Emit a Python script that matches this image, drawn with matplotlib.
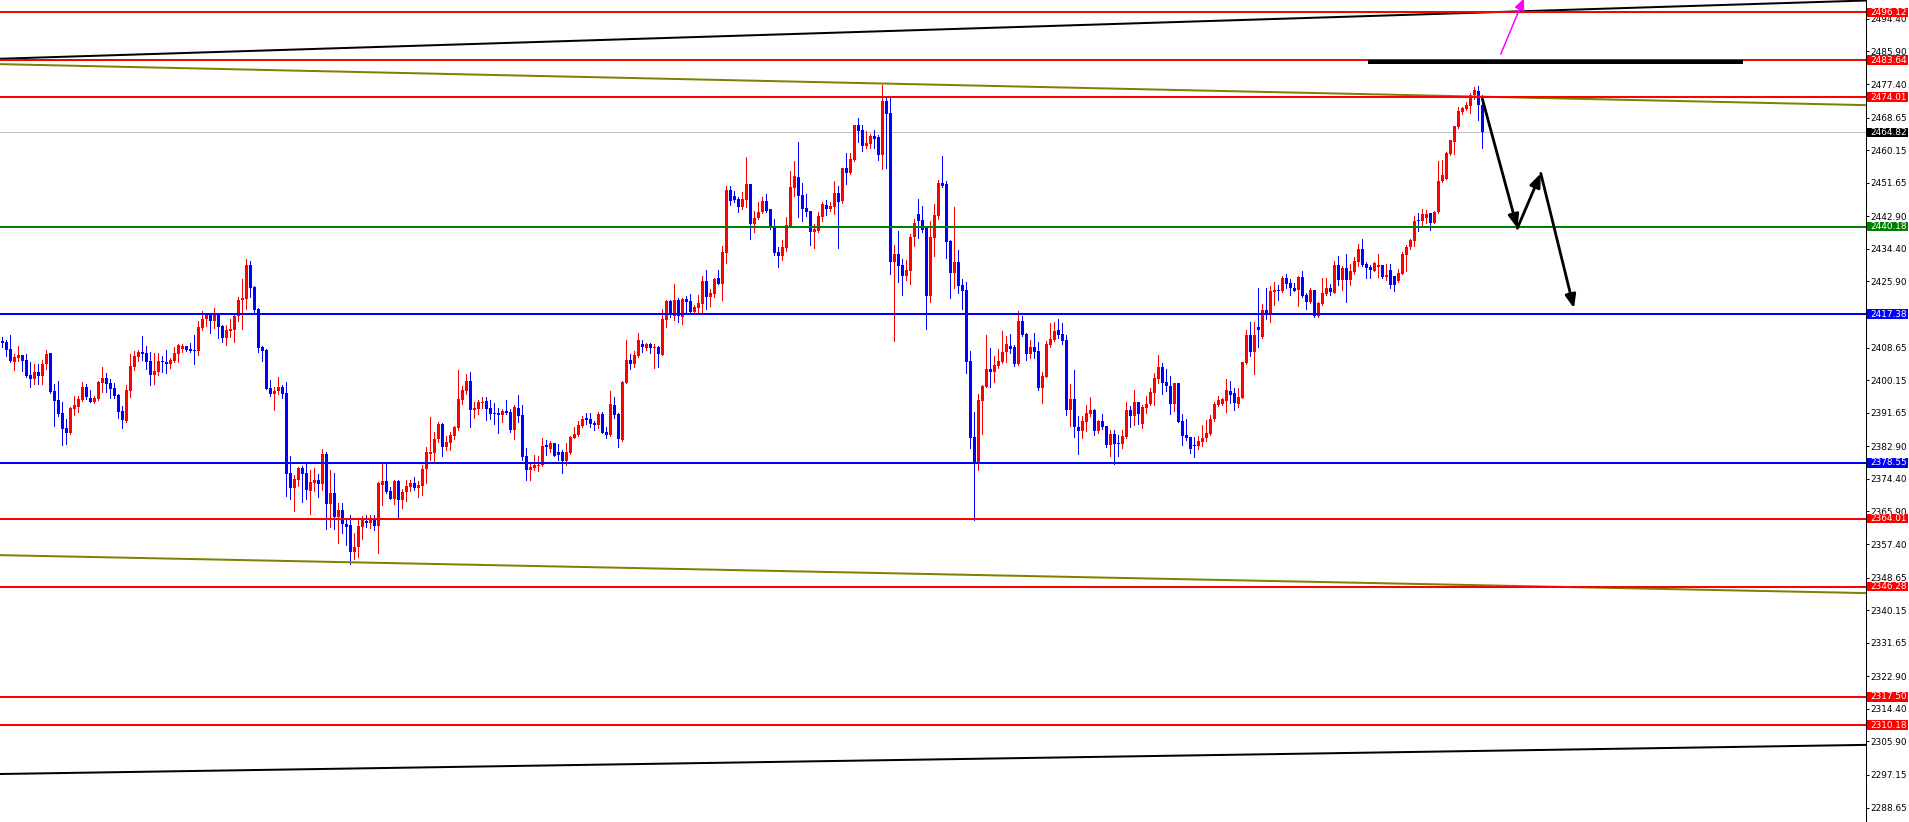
import matplotlib
matplotlib.use('Agg')
import matplotlib.pyplot as plt
import matplotlib.transforms as mtransforms
from matplotlib.patches import Rectangle, FancyArrowPatch
import numpy as np

# ---------------- data ----------------
opens = [
2410.4, 2410.1, 2408.3, 2405.0, 2405.9, 2406.6, 2405.4, 2401.5, 2400.5, 2402.3,
2401.2, 2404.4, 2407.2, 2397.3, 2395.0, 2391.6, 2387.6, 2386.4, 2392.7, 2393.2,
2395.0, 2398.4, 2395.5, 2394.4, 2395.2, 2399.5, 2400.7, 2399.4, 2398.0, 2396.3,
2392.1, 2389.6, 2397.4, 2403.6, 2406.3, 2407.5, 2407.2, 2405.1, 2401.5, 2402.3,
2405.1, 2404.9, 2404.4, 2405.2, 2407.1, 2408.3, 2409.1, 2408.3, 2408.0, 2407.8,
2413.7, 2416.1, 2417.7, 2415.6, 2417.4, 2414.3, 2411.1, 2413.1, 2413.2, 2416.9,
2421.1, 2421.3, 2430.2, 2424.5, 2418.7, 2408.8, 2408.0, 2398.0, 2396.5, 2397.3,
2398.4, 2396.8, 2375.9, 2372.0, 2374.1, 2377.2, 2375.9, 2371.2, 2373.3, 2374.1,
2373.0, 2380.9, 2367.8, 2370.6, 2364.5, 2366.2, 2362.6, 2362.3, 2355.4, 2356.7,
2361.9, 2363.5, 2362.8, 2363.7, 2362.1, 2372.8, 2373.8, 2371.2, 2369.1, 2373.8,
2368.9, 2371.0, 2372.3, 2373.3, 2372.0, 2372.5, 2377.0, 2380.9, 2381.1, 2384.8,
2388.7, 2382.7, 2383.7, 2385.6, 2387.7, 2395.0, 2397.3, 2399.9, 2392.3, 2392.6,
2394.2, 2394.7, 2392.9, 2391.6, 2391.6, 2391.1, 2392.1, 2391.8, 2387.1, 2392.9,
2391.1, 2380.3, 2376.7, 2377.2, 2377.7, 2378.0, 2383.2, 2382.2, 2383.7, 2381.4,
2381.4, 2379.1, 2381.1, 2385.1, 2385.8, 2388.2, 2390.3, 2390.0, 2388.9, 2388.4,
2391.3, 2386.6, 2385.8, 2393.7, 2391.3, 2384.5, 2399.4, 2405.4, 2404.4, 2406.4,
2409.6, 2408.5, 2409.6, 2408.5, 2408.8, 2406.7, 2415.8, 2420.8, 2416.9, 2421.1,
2416.6, 2421.3, 2420.8, 2417.9, 2419.0, 2420.0, 2426.0, 2421.8, 2422.6, 2426.8,
2425.2, 2433.3, 2449.8, 2448.2, 2447.4, 2445.3, 2447.2, 2451.3, 2440.9, 2442.5,
2444.0, 2446.9, 2444.8, 2440.4, 2433.6, 2432.5, 2434.6, 2440.4, 2450.3, 2453.2,
2448.5, 2445.1, 2444.3, 2438.8, 2439.1, 2442.7, 2445.8, 2444.8, 2445.3, 2449.0,
2446.9, 2455.5, 2454.2, 2457.6, 2466.7, 2465.4, 2461.2, 2461.7, 2463.8, 2463.6,
2458.9, 2472.9, 2469.8, 2431.0, 2433.1, 2430.2, 2427.3, 2428.6, 2437.5, 2443.5,
2441.9, 2439.8, 2422.1, 2437.2, 2443.0, 2451.6, 2451.3, 2436.5, 2428.1, 2431.0,
2425.0, 2423.7, 2405.1, 2385.3, 2378.3, 2394.7, 2398.4, 2403.1, 2402.3, 2403.8,
2404.9, 2407.5, 2409.1, 2408.8, 2404.4, 2415.6, 2412.2, 2407.0, 2408.8, 2407.8,
2398.1, 2401.0, 2409.3, 2410.6, 2413.2, 2412.2, 2410.6, 2392.3, 2395.2, 2387.9,
2386.9, 2389.2, 2391.3, 2392.3, 2386.9, 2389.5, 2388.2, 2383.2, 2386.1, 2383.7,
2383.5, 2385.3, 2392.3, 2390.8, 2394.4, 2388.7, 2392.9, 2393.9, 2396.8, 2400.4,
2403.6, 2399.7, 2398.6, 2393.9, 2399.4, 2389.5, 2385.8, 2385.3, 2383.2, 2383.0,
2384.0, 2385.1, 2386.1, 2390.0, 2393.7, 2393.9, 2394.7, 2397.3, 2396.8, 2393.9,
2395.5, 2404.6, 2411.9, 2407.5, 2414.0, 2411.4, 2418.4, 2417.4, 2423.1, 2423.7,
2423.4, 2426.8, 2425.5, 2424.2, 2423.7, 2427.0, 2422.4, 2420.5, 2423.7, 2416.9,
2420.0, 2422.6, 2424.2, 2422.9, 2430.2, 2426.3, 2429.4, 2426.3, 2428.3, 2431.0,
2434.3, 2430.5, 2429.7, 2428.6, 2429.7, 2430.2, 2427.0, 2428.9, 2427.3, 2426.0,
2427.8, 2432.8, 2434.9, 2436.5, 2441.9, 2441.7, 2442.5, 2443.8, 2441.1, 2444.0,
2452.1, 2452.6, 2459.1, 2462.3, 2466.2, 2470.1, 2470.9, 2471.7, 2474.5, 2475.6,
2471.9]

highs = [
2411.5, 2410.6, 2411.9, 2407.1, 2409.1, 2406.7, 2407.0, 2404.9, 2404.4, 2404.4,
2405.4, 2408.0, 2407.2, 2399.1, 2399.9, 2394.4, 2390.0, 2393.2, 2396.0, 2396.0,
2399.7, 2399.1, 2397.6, 2395.9, 2399.9, 2403.6, 2402.0, 2400.4, 2399.4, 2396.5,
2393.4, 2398.9, 2407.0, 2407.8, 2408.0, 2411.7, 2409.1, 2407.5, 2407.2, 2407.2,
2406.4, 2408.0, 2405.9, 2408.8, 2409.5, 2409.5, 2409.1, 2409.8, 2411.9, 2415.6,
2418.2, 2417.7, 2417.7, 2419.0, 2417.7, 2414.5, 2414.5, 2416.1, 2417.4, 2421.8,
2426.5, 2431.8, 2431.2, 2424.7, 2419.0, 2409.1, 2408.3, 2400.2, 2398.4, 2400.9,
2398.9, 2399.7, 2380.3, 2375.4, 2377.5, 2377.7, 2378.3, 2376.7, 2377.2, 2375.6,
2382.2, 2381.4, 2376.7, 2376.0, 2368.0, 2368.0, 2364.1, 2364.9, 2360.2, 2363.7,
2364.7, 2364.9, 2364.9, 2364.9, 2373.6, 2378.8, 2378.3, 2372.3, 2374.1, 2374.1,
2371.8, 2374.1, 2374.1, 2374.9, 2373.8, 2378.0, 2382.7, 2390.5, 2386.6, 2389.2,
2389.0, 2385.6, 2386.6, 2388.2, 2402.8, 2398.6, 2401.8, 2402.3, 2394.4, 2394.9,
2395.8, 2395.8, 2395.0, 2394.2, 2392.9, 2392.6, 2395.0, 2392.6, 2393.7, 2396.3,
2393.7, 2382.4, 2378.3, 2380.6, 2380.3, 2385.1, 2384.5, 2384.3, 2383.7, 2383.5,
2381.9, 2383.7, 2385.6, 2387.9, 2389.5, 2390.8, 2391.6, 2391.6, 2389.5, 2391.8,
2391.8, 2387.9, 2397.3, 2395.8, 2391.6, 2399.9, 2410.6, 2407.0, 2407.8, 2412.4,
2410.6, 2409.8, 2409.8, 2409.6, 2409.1, 2418.7, 2421.1, 2421.1, 2425.2, 2421.6,
2421.6, 2422.1, 2422.6, 2419.8, 2422.4, 2427.3, 2428.9, 2423.9, 2426.8, 2428.9,
2435.2, 2450.8, 2450.8, 2449.5, 2447.9, 2449.2, 2458.4, 2451.3, 2444.3, 2446.6,
2447.9, 2448.7, 2444.8, 2442.2, 2434.9, 2436.7, 2442.7, 2454.7, 2457.3, 2462.3,
2451.6, 2448.7, 2444.3, 2440.9, 2444.0, 2446.6, 2447.2, 2446.6, 2452.1, 2450.8,
2455.5, 2459.4, 2459.4, 2466.7, 2468.5, 2466.7, 2465.2, 2464.4, 2465.4, 2464.1,
2477.2, 2473.8, 2473.8, 2435.4, 2439.1, 2431.8, 2431.5, 2438.3, 2442.2, 2447.4,
2445.6, 2440.1, 2441.7, 2446.1, 2452.4, 2458.6, 2452.1, 2436.7, 2445.3, 2434.1,
2426.5, 2425.8, 2407.8, 2391.8, 2396.5, 2398.9, 2411.9, 2408.5, 2406.4, 2408.3,
2413.0, 2411.7, 2412.2, 2409.3, 2418.2, 2416.9, 2412.4, 2410.6, 2412.4, 2410.1,
2402.3, 2410.4, 2415.1, 2415.3, 2416.1, 2415.1, 2411.9, 2399.1, 2402.8, 2390.8,
2390.8, 2393.7, 2395.8, 2392.6, 2389.7, 2391.3, 2388.2, 2387.1, 2387.1, 2385.8,
2387.1, 2394.4, 2393.4, 2397.6, 2394.4, 2393.7, 2396.0, 2398.1, 2402.0, 2406.7,
2404.6, 2403.1, 2401.2, 2399.4, 2399.4, 2391.3, 2390.0, 2385.3, 2385.3, 2385.6,
2388.4, 2389.7, 2391.1, 2394.4, 2396.0, 2395.5, 2400.4, 2399.9, 2398.1, 2398.1,
2404.9, 2413.2, 2415.3, 2415.3, 2424.2, 2420.0, 2424.2, 2424.7, 2425.8, 2425.0,
2427.3, 2427.8, 2426.5, 2425.5, 2427.3, 2428.6, 2422.9, 2424.2, 2423.7, 2420.5,
2426.8, 2426.8, 2425.2, 2431.2, 2432.5, 2429.9, 2433.1, 2430.5, 2432.3, 2435.7,
2437.0, 2431.0, 2430.2, 2431.0, 2433.1, 2430.2, 2430.5, 2430.5, 2427.3, 2429.1,
2433.6, 2435.4, 2437.0, 2443.0, 2443.8, 2444.8, 2444.5, 2443.8, 2444.3, 2457.3,
2457.6, 2459.7, 2462.8, 2466.5, 2471.4, 2471.4, 2472.7, 2475.1, 2476.6, 2476.9,
2474.5]

lows = [
2408.9, 2406.5, 2405.0, 2402.8, 2405.2, 2402.6, 2401.1, 2398.4, 2399.1, 2399.1,
2399.1, 2403.1, 2396.9, 2388.2, 2390.8, 2383.3, 2383.5, 2386.1, 2391.1, 2391.8,
2394.6, 2395.2, 2394.4, 2394.1, 2395.0, 2397.0, 2397.0, 2395.5, 2395.5, 2390.3,
2387.7, 2389.2, 2395.8, 2402.7, 2405.2, 2405.4, 2403.1, 2398.9, 2399.1, 2401.5,
2402.3, 2402.0, 2403.3, 2404.9, 2404.9, 2407.5, 2407.8, 2407.5, 2404.4, 2406.7,
2413.2, 2414.3, 2412.4, 2413.7, 2411.1, 2410.1, 2409.3, 2411.5, 2410.1, 2415.6,
2413.5, 2418.7, 2421.8, 2417.9, 2407.5, 2405.1, 2397.8, 2396.0, 2392.3, 2396.5,
2395.5, 2369.9, 2369.1, 2365.9, 2372.5, 2368.4, 2369.1, 2365.2, 2371.2, 2369.7,
2371.5, 2361.3, 2361.9, 2361.4, 2357.6, 2360.2, 2357.1, 2352.2, 2353.5, 2354.1,
2358.8, 2361.9, 2361.5, 2361.0, 2355.1, 2367.6, 2370.6, 2369.1, 2367.8, 2364.5,
2366.8, 2368.6, 2371.2, 2371.5, 2369.7, 2370.2, 2373.3, 2379.3, 2379.0, 2384.0,
2380.3, 2381.9, 2381.9, 2384.8, 2387.1, 2393.9, 2396.5, 2387.9, 2390.3, 2391.3,
2392.9, 2389.7, 2390.0, 2388.7, 2386.4, 2389.2, 2391.3, 2386.6, 2384.8, 2389.2,
2379.3, 2374.1, 2374.1, 2376.7, 2376.4, 2377.7, 2380.6, 2381.4, 2380.3, 2379.3,
2375.9, 2378.0, 2380.9, 2385.1, 2385.6, 2387.9, 2388.7, 2387.9, 2387.1, 2387.7,
2386.4, 2385.1, 2385.6, 2390.3, 2382.7, 2384.3, 2399.4, 2403.1, 2403.6, 2406.2,
2407.5, 2408.0, 2407.2, 2403.3, 2403.6, 2406.7, 2414.0, 2416.6, 2415.8, 2415.3,
2414.8, 2417.7, 2417.4, 2417.7, 2417.4, 2417.4, 2418.7, 2419.5, 2421.8, 2425.2,
2421.1, 2430.7, 2445.8, 2446.6, 2444.0, 2444.8, 2445.3, 2436.9, 2438.8, 2442.2,
2443.8, 2444.0, 2439.6, 2432.8, 2429.7, 2431.5, 2433.8, 2440.4, 2448.2, 2442.7,
2441.7, 2443.0, 2435.4, 2434.6, 2438.8, 2441.7, 2443.2, 2444.3, 2443.5, 2434.6,
2446.4, 2451.3, 2453.9, 2457.3, 2462.3, 2459.9, 2460.7, 2460.7, 2460.7, 2457.6,
2455.2, 2455.5, 2427.8, 2410.4, 2425.8, 2422.4, 2426.3, 2425.2, 2435.2, 2437.2,
2438.8, 2413.5, 2420.5, 2432.5, 2442.2, 2450.5, 2432.0, 2421.6, 2424.2, 2422.9,
2418.7, 2402.0, 2382.4, 2363.7, 2376.7, 2386.1, 2398.4, 2398.4, 2399.7, 2403.3,
2404.6, 2404.9, 2407.2, 2403.8, 2404.1, 2411.7, 2405.4, 2405.9, 2405.9, 2397.6,
2394.2, 2401.0, 2408.8, 2410.4, 2411.1, 2409.6, 2391.1, 2388.2, 2385.3, 2380.9,
2385.1, 2386.9, 2390.8, 2385.8, 2386.4, 2387.4, 2382.7, 2380.3, 2378.3, 2380.3,
2382.4, 2385.1, 2387.9, 2388.4, 2388.7, 2387.7, 2391.6, 2393.7, 2393.7, 2399.4,
2396.5, 2397.3, 2391.3, 2392.1, 2389.2, 2383.2, 2384.5, 2381.1, 2380.1, 2382.2,
2383.0, 2384.3, 2385.8, 2389.5, 2393.4, 2393.7, 2391.8, 2394.2, 2392.3, 2393.1,
2395.5, 2404.4, 2406.4, 2401.8, 2408.8, 2411.1, 2416.1, 2415.3, 2419.8, 2421.1,
2423.1, 2424.2, 2422.4, 2423.4, 2419.5, 2421.8, 2418.7, 2420.3, 2416.6, 2416.6,
2419.8, 2422.4, 2422.4, 2422.9, 2425.0, 2423.7, 2420.5, 2425.0, 2427.8, 2429.9,
2429.9, 2426.8, 2426.8, 2428.6, 2427.0, 2426.8, 2426.3, 2424.2, 2423.4, 2425.8,
2427.8, 2428.6, 2434.3, 2435.2, 2439.1, 2440.4, 2441.1, 2439.3, 2441.1, 2443.8,
2451.8, 2452.6, 2458.9, 2459.1, 2465.9, 2469.6, 2470.6, 2469.8, 2473.5, 2468.0,
2460.7]

closes = [
2409.9, 2408.0, 2405.2, 2406.3, 2406.6, 2405.2, 2401.2, 2400.5, 2402.3, 2401.2,
2404.4, 2407.0, 2397.0, 2394.8, 2391.3, 2387.5, 2386.4, 2392.9, 2393.7, 2395.2,
2398.4, 2395.8, 2394.4, 2395.5, 2399.7, 2400.7, 2399.1, 2397.8, 2396.0, 2391.8,
2389.7, 2397.6, 2403.8, 2406.4, 2407.5, 2407.0, 2404.9, 2401.5, 2402.5, 2405.1,
2404.9, 2404.4, 2405.4, 2407.2, 2409.3, 2409.1, 2408.0, 2407.8, 2407.8, 2414.0,
2416.1, 2417.7, 2415.6, 2417.4, 2414.0, 2411.1, 2413.2, 2413.2, 2416.9, 2421.1,
2421.6, 2430.2, 2424.2, 2418.4, 2408.5, 2407.8, 2397.8, 2396.5, 2397.3, 2398.4,
2396.5, 2375.6, 2372.0, 2374.3, 2377.2, 2375.6, 2371.5, 2373.5, 2374.1, 2373.0,
2380.9, 2367.8, 2370.6, 2364.5, 2366.2, 2362.6, 2361.9, 2355.4, 2356.7, 2362.1,
2364.1, 2362.8, 2363.8, 2362.1, 2373.2, 2373.8, 2370.9, 2369.1, 2373.8, 2368.9,
2371.0, 2372.5, 2373.3, 2372.0, 2372.8, 2377.0, 2381.4, 2381.4, 2384.8, 2388.7,
2382.7, 2384.0, 2385.8, 2387.9, 2395.2, 2397.6, 2399.9, 2392.3, 2392.9, 2394.4,
2394.4, 2392.6, 2391.3, 2391.3, 2391.1, 2392.1, 2391.6, 2387.1, 2393.1, 2390.8,
2380.1, 2376.7, 2377.5, 2378.0, 2378.0, 2383.0, 2382.7, 2383.7, 2380.3, 2380.6,
2379.1, 2381.4, 2385.3, 2386.1, 2388.4, 2390.0, 2389.7, 2388.7, 2388.4, 2391.3,
2386.4, 2385.8, 2393.9, 2391.1, 2384.8, 2399.7, 2405.4, 2404.4, 2406.7, 2410.6,
2408.8, 2409.6, 2408.5, 2408.8, 2407.0, 2416.1, 2420.8, 2417.2, 2421.1, 2416.9,
2421.3, 2420.5, 2417.9, 2419.2, 2420.3, 2426.0, 2421.8, 2422.9, 2426.5, 2425.2,
2433.6, 2449.8, 2446.9, 2447.2, 2445.3, 2447.4, 2451.3, 2440.9, 2442.5, 2444.0,
2446.9, 2444.3, 2440.1, 2433.3, 2432.5, 2434.9, 2440.6, 2450.5, 2453.4, 2448.2,
2444.8, 2444.0, 2438.8, 2439.6, 2443.0, 2446.1, 2444.8, 2445.6, 2449.0, 2446.6,
2455.5, 2454.2, 2457.9, 2466.7, 2465.2, 2461.2, 2462.0, 2463.8, 2463.1, 2458.9,
2472.9, 2469.6, 2431.0, 2433.1, 2429.9, 2427.3, 2428.9, 2437.5, 2441.1, 2441.7,
2439.3, 2422.1, 2437.5, 2443.2, 2451.6, 2450.8, 2436.2, 2428.1, 2431.0, 2424.7,
2423.4, 2404.9, 2385.1, 2378.3, 2395.0, 2398.6, 2403.1, 2402.3, 2404.1, 2405.1,
2407.5, 2409.6, 2408.3, 2404.4, 2415.6, 2411.9, 2407.0, 2408.8, 2407.5, 2398.1,
2401.2, 2409.6, 2410.9, 2413.0, 2411.9, 2410.4, 2392.3, 2395.2, 2387.9, 2386.9,
2389.5, 2391.6, 2392.3, 2386.9, 2389.5, 2387.9, 2383.2, 2386.1, 2383.5, 2383.5,
2385.6, 2392.3, 2390.8, 2394.4, 2391.3, 2393.1, 2393.9, 2397.0, 2400.7, 2403.6,
2399.4, 2398.6, 2393.9, 2399.4, 2389.2, 2385.6, 2385.1, 2382.2, 2383.0, 2384.3,
2385.1, 2386.4, 2390.0, 2393.9, 2395.0, 2395.2, 2397.6, 2396.3, 2394.2, 2395.8,
2404.9, 2411.9, 2407.5, 2411.9, 2413.2, 2418.4, 2417.7, 2423.4, 2423.7, 2423.4,
2426.8, 2425.2, 2424.2, 2423.4, 2427.0, 2422.1, 2420.5, 2423.7, 2416.9, 2420.3,
2422.9, 2424.2, 2423.1, 2430.2, 2426.3, 2429.4, 2426.3, 2428.6, 2431.2, 2434.3,
2430.2, 2429.4, 2428.9, 2430.7, 2430.2, 2427.0, 2427.6, 2425.0, 2425.0, 2428.1,
2433.1, 2434.9, 2436.7, 2441.7, 2441.7, 2443.5, 2443.5, 2441.1, 2444.0, 2452.1,
2453.7, 2459.4, 2462.8, 2466.5, 2470.4, 2471.1, 2471.9, 2474.5, 2475.8, 2471.9,
2464.82]

# horizontal levels
red_levels = [2496.12, 2483.64, 2474.01, 2364.01, 2346.28, 2317.50, 2310.18]
blue_levels = [2417.38, 2378.55]
green_levels = [2440.18]
bid_price = 2464.82

# trend lines: (bar index, price) anchor pairs
black_upper = [(-0.6, 2484.0), (466.0, 2499.2)]
black_lower = [(-0.6, 2297.4), (466.0, 2305.0)]
olive_upper = [(-0.6, 2482.6), (466.0, 2471.9)]
olive_lower = [(-0.6, 2354.5), (466.0, 2344.6)]
black_segment = [(341.3, 2483.1), (435.1, 2483.1)]

# forecast path (bar index, price)
path_x = [370.0, 378.75, 384.6, 392.9]
path_y = [2473.5, 2439.8, 2454.1, 2418.9]
magenta_x = [374.6, 380.4]
magenta_y = [2485.2, 2499.8]

tick_vals = [2494.40, 2485.90, 2477.40, 2468.65, 2460.15, 2451.65, 2442.90, 2434.40,
             2425.90, 2417.15, 2408.65, 2400.15, 2391.65, 2382.90, 2374.40, 2365.90,
             2357.40, 2348.65, 2340.15, 2331.65, 2322.90, 2314.40, 2305.90, 2297.15,
             2288.65]

# ---------------- figure ----------------
W, H, DPI = 1909, 822, 100
PX = 72.0 / DPI
AXR = 1866
FONT = 'DejaVu Sans'
FS = 6.4
fig = plt.figure(figsize=(W / DPI, H / DPI), dpi=DPI, facecolor='white')
ax = fig.add_axes([0, 0, AXR / W, 1])
ax.set_facecolor('white')

o = np.array(opens); h = np.array(highs); l = np.array(lows); c = np.array(closes)
x = np.arange(len(c))
up = c >= o
cols = np.where(up, '#FF0000', '#0000FF')

ax.vlines(x, l, h, colors=cols, lw=1.0 * PX, antialiased=False, zorder=3)
bb = np.minimum(o, c)
bh = np.maximum(np.abs(c - o), 0.28)
ax.bar(x, bh, bottom=bb, width=0.8, color=cols, linewidth=0, antialiased=False, zorder=4)

ax.set_xlim(-0.575, 465.9)
ax.set_ylim(2284.88, 2499.33)

for lv in red_levels:
    ax.axhline(lv, color='#FF0000', lw=2 * PX, zorder=6)
for lv in blue_levels:
    ax.axhline(lv, color='#0000FF', lw=2 * PX, zorder=6)
for lv in green_levels:
    ax.axhline(lv, color='#008000', lw=2 * PX, zorder=6)
ax.axhline(bid_price, color='#C0C0C0', lw=1 * PX, zorder=2)

for ln, col in [(black_upper, 'black'), (black_lower, 'black'),
                (olive_upper, '#808000'), (olive_lower, '#808000')]:
    ax.plot([ln[0][0], ln[1][0]], [ln[0][1], ln[1][1]], color=col, lw=2 * PX, zorder=5)
ax.plot([black_segment[0][0], black_segment[1][0]], [black_segment[0][1], black_segment[1][1]],
        color='black', lw=4 * PX, solid_capstyle='butt', zorder=7)

for k in range(len(path_x) - 1):
    arr = FancyArrowPatch((path_x[k], path_y[k]), (path_x[k + 1], path_y[k + 1]),
                          arrowstyle='-|>,head_length=8,head_width=3.2',
                          color='black', lw=2.8 * PX, shrinkA=0, shrinkB=0, zorder=8)
    ax.add_patch(arr)
arr = FancyArrowPatch((magenta_x[0], magenta_y[0]), (magenta_x[1], magenta_y[1]),
                      arrowstyle='-|>,head_length=7,head_width=3',
                      color='#FF00FF', lw=1.5 * PX, shrinkA=0, shrinkB=0, zorder=8,
                      clip_on=False)
ax.add_patch(arr)

# axes frame
for s in ['top', 'bottom', 'left']:
    ax.spines[s].set_visible(False)
ax.spines['right'].set_color('black')
ax.spines['right'].set_linewidth(1 * PX)
ax.set_xticks([])
ax.yaxis.tick_right()
ax.set_yticks(tick_vals)
ax.set_yticklabels(['%.2f' % v for v in tick_vals], fontfamily=FONT, fontsize=FS)
ax.tick_params(axis='y', direction='out', length=3 * PX, width=1 * PX, pad=1.5 * PX, colors='black')

# price labels on the scale
blend = mtransforms.blended_transform_factory(fig.transFigure, ax.transData)
box_h = 9.5 / 3.833
labels = [(lv, '#FF0000') for lv in red_levels] + [(lv, '#0000FF') for lv in blue_levels] + \
         [(lv, '#008000') for lv in green_levels] + [(bid_price, '#000000')]
for lv, col in labels:
    ax.add_patch(Rectangle((1867 / W, lv - box_h / 2), 41 / W, box_h, transform=blend,
                           facecolor=col, edgecolor='none', clip_on=False, zorder=20))
    ax.text(1870 / W, lv, '%.2f' % lv, transform=blend, color='white', va='center', ha='left',
            fontsize=FS, fontfamily=FONT, clip_on=False, zorder=21)

fig.savefig('out.png', dpi=DPI, facecolor='white')
